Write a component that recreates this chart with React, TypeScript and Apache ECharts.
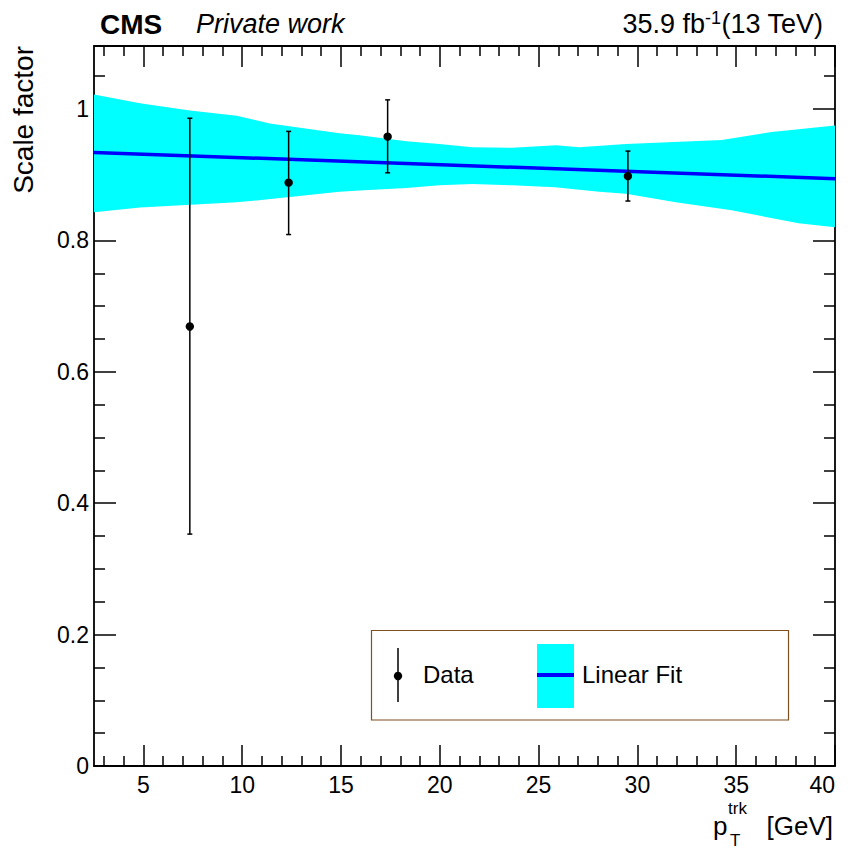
import React, { useEffect, useRef } from "react";
import * as echarts from "echarts";

// ---- data ----
const dataX = [7.35, 12.35, 17.36, 29.52];
const dataY = [0.669, 0.888, 0.958, 0.898];
const errLow = [0.353, 0.809, 0.903, 0.86];
const errHigh = [0.986, 0.966, 1.014, 0.936];

const fitX = [2.5, 40];
const fitY = [0.934, 0.894];

const bandUpperX = [2.5, 4.82, 7.35, 9.72, 11.39, 14.92, 15.93, 18.31, 19.97, 21.64, 23.66, 25.88, 27.05, 29.42, 34.27, 36.79, 40];
const bandUpperY = [1.022, 1.009, 0.998, 0.99, 0.978, 0.963, 0.96, 0.951, 0.947, 0.942, 0.941, 0.945, 0.942, 0.947, 0.953, 0.965, 0.975];
const bandLowerX = [2.5, 4.82, 9.72, 12.4, 14.92, 15.93, 18.31, 19.97, 21.64, 23.66, 25.83, 28.06, 29.42, 31.94, 34.77, 38.16, 40];
const bandLowerY = [0.843, 0.85, 0.858, 0.866, 0.874, 0.876, 0.88, 0.884, 0.886, 0.884, 0.881, 0.874, 0.871, 0.858, 0.846, 0.826, 0.82];

const xMajorTicks = [5, 10, 15, 20, 25, 30, 35, 40];
const yMajorTicks = [0, 0.2, 0.4, 0.6, 0.8, 1];

const X_MIN = 2.5;
const X_MAX = 40;
const Y_MIN = 0;
const Y_MAX = 1.096;

const FONT = "Liberation Sans";

function minorX(): number[] {
  const out: number[] = [];
  for (let v = 3; v <= 40; v++) if (v % 5 !== 0) out.push(v);
  return out;
}
function minorY(): number[] {
  const out: number[] = [];
  for (let i = 1; i <= 21; i++) if (i % 4 !== 0) out.push(Math.round(i * 5) / 100);
  return out;
}

export default function App() {
  const ref = useRef<HTMLDivElement>(null);

  useEffect(() => {
    if (!ref.current) return;
    const chart = echarts.init(ref.current, undefined, { renderer: "svg" });

    const tickStyle = { color: "#000", width: 1.5 };
    const axisLineStyle = { color: "#000", width: 1.8 };

    const mkX = (pos: "bottom" | "top", major: boolean, withLabels: boolean) => ({
      type: "value",
      position: pos,
      min: X_MIN,
      max: X_MAX,
      splitLine: { show: false },
      axisLine: { show: major, onZero: false, lineStyle: axisLineStyle },
      axisTick: {
        show: true,
        inside: true,
        length: major ? 21 : 10,
        lineStyle: tickStyle,
        customValues: major ? xMajorTicks : minorX(),
      },
      axisLabel: withLabels
        ? {
            show: true,
            customValues: xMajorTicks,
            fontFamily: FONT,
            fontSize: 23,
            color: "#000",
            margin: 7,
            alignMaxLabel: "right",
          }
        : { show: false },
    });

    const mkY = (pos: "left" | "right", major: boolean, withLabels: boolean) => ({
      type: "value",
      position: pos,
      min: Y_MIN,
      max: Y_MAX,
      splitLine: { show: false },
      axisLine: { show: major, onZero: false, lineStyle: axisLineStyle },
      axisTick: {
        show: true,
        inside: true,
        length: major ? 22 : 11,
        lineStyle: tickStyle,
        customValues: major ? yMajorTicks : minorY(),
      },
      axisLabel: withLabels
        ? {
            show: true,
            customValues: yMajorTicks,
            fontFamily: FONT,
            fontSize: 23,
            color: "#000",
            margin: 5,
            formatter: (v: number) => String(Math.round(v * 100) / 100),
          }
        : { show: false },
    });

    const option: any = {
      animation: false,
      backgroundColor: "#fff",
      grid: { left: 94, right: 15, top: 46, bottom: 84, containLabel: false },
      xAxis: [mkX("bottom", true, true), mkX("bottom", false, false), mkX("top", true, false), mkX("top", false, false)],
      yAxis: [mkY("left", true, true), mkY("left", false, false), mkY("right", true, false), mkY("right", false, false)],
      series: [
        {
          type: "custom",
          name: "band",
          xAxisIndex: 0,
          yAxisIndex: 0,
          z: 1,
          silent: true,
          data: [[bandUpperX[0], bandUpperY[0]]],
          renderItem: (params: any, api: any) => {
            if (params.dataIndex !== 0) return null;
            const pts: number[][] = [];
            for (let i = 0; i < bandUpperX.length; i++) pts.push(api.coord([bandUpperX[i], bandUpperY[i]]));
            for (let i = bandLowerX.length - 1; i >= 0; i--) pts.push(api.coord([bandLowerX[i], bandLowerY[i]]));
            return { type: "polygon", shape: { points: pts }, style: { fill: "#00ffff", stroke: "none" } };
          },
        },
        {
          type: "line",
          name: "fit",
          xAxisIndex: 0,
          yAxisIndex: 0,
          z: 2,
          showSymbol: false,
          silent: true,
          lineStyle: { color: "#0000ff", width: 3.5 },
          data: fitX.map((x, i) => [x, fitY[i]]),
        },
        {
          type: "custom",
          name: "data",
          xAxisIndex: 0,
          yAxisIndex: 0,
          z: 3,
          silent: true,
          encode: { x: 0, y: [1, 2, 3] },
          data: dataX.map((x, i) => [x, dataY[i], errLow[i], errHigh[i]]),
          renderItem: (params: any, api: any) => {
            const x = api.value(0);
            const c = api.coord([x, api.value(1)]);
            const lo = api.coord([x, api.value(2)]);
            const hi = api.coord([x, api.value(3)]);
            const capW = 2.5;
            const st = { stroke: "#000", lineWidth: 1.5 };
            return {
              type: "group",
              children: [
                { type: "line", shape: { x1: c[0], y1: lo[1], x2: c[0], y2: hi[1] }, style: st },
                { type: "line", shape: { x1: c[0] - capW, y1: lo[1], x2: c[0] + capW, y2: lo[1] }, style: st },
                { type: "line", shape: { x1: c[0] - capW, y1: hi[1], x2: c[0] + capW, y2: hi[1] }, style: st },
                { type: "circle", shape: { cx: c[0], cy: c[1], r: 4.2 }, style: { fill: "#000" } },
              ],
            };
          },
        },
      ],
      graphic: [
        // header
        { type: "text", x: 100, y: 24, style: { text: "CMS", font: `bold 28px "${FONT}"`, fill: "#000", align: "left", verticalAlign: "middle" } },
        { type: "text", x: 196, y: 24, style: { text: "Private work", font: `italic 27px "${FONT}"`, fill: "#000", align: "left", verticalAlign: "middle" } },
        {
          type: "text",
          x: 823,
          y: 24,
          style: {
            text: "{a|35.9 fb}{s|-1}{a|(13 TeV)}",
            align: "right",
            verticalAlign: "middle",
            rich: {
              a: { fontFamily: FONT, fontSize: 27, lineHeight: 30, fill: "#000", verticalAlign: "middle" },
              s: { fontFamily: FONT, fontSize: 18, lineHeight: 20, fill: "#000", verticalAlign: "top" },
            },
          },
        },
        // x title
        { type: "text", x: 713, y: 826, style: { text: "p", font: `26px "${FONT}"`, fill: "#000", align: "left", verticalAlign: "middle" } },
        { type: "text", x: 728, y: 808.5, style: { text: "trk", font: `17px "${FONT}"`, fill: "#000", align: "left", verticalAlign: "middle" } },
        { type: "text", x: 730, y: 840.5, style: { text: "T", font: `17px "${FONT}"`, fill: "#000", align: "left", verticalAlign: "middle" } },
        { type: "text", x: 833, y: 826, style: { text: "[GeV]", font: `26px "${FONT}"`, fill: "#000", align: "right", verticalAlign: "middle" } },
        // y title
        {
          type: "text",
          x: 23.3,
          y: 46,
          rotation: Math.PI / 2,
          style: { text: "Scale factor", font: `28px "${FONT}"`, fill: "#000", align: "right", verticalAlign: "middle" },
        },
        // legend
        { type: "rect", shape: { x: 371.5, y: 630.5, width: 417, height: 89.5 }, style: { fill: "none", stroke: "#7f4f1f", lineWidth: 1.2 } },
        { type: "line", shape: { x1: 398, y1: 648, x2: 398, y2: 702 }, style: { stroke: "#000", lineWidth: 1.5 } },
        { type: "circle", shape: { cx: 398, cy: 676, r: 4.2 }, style: { fill: "#000" } },
        { type: "text", x: 423, y: 674.7, style: { text: "Data", font: `24px "${FONT}"`, fill: "#000", align: "left", verticalAlign: "middle" } },
        { type: "rect", shape: { x: 537, y: 644, width: 37, height: 64 }, style: { fill: "#00ffff" } },
        { type: "line", shape: { x1: 537, y1: 675, x2: 574, y2: 675 }, style: { stroke: "#0000ff", lineWidth: 4 } },
        { type: "text", x: 582, y: 674.7, style: { text: "Linear Fit", font: `24px "${FONT}"`, fill: "#000", align: "left", verticalAlign: "middle" } },
      ],
    };

    chart.setOption(option);
    return () => chart.dispose();
  }, []);

  return <div ref={ref} style={{ position: "fixed", left: 0, top: 0, width: 850, height: 850, background: "#fff" }} />;
}
